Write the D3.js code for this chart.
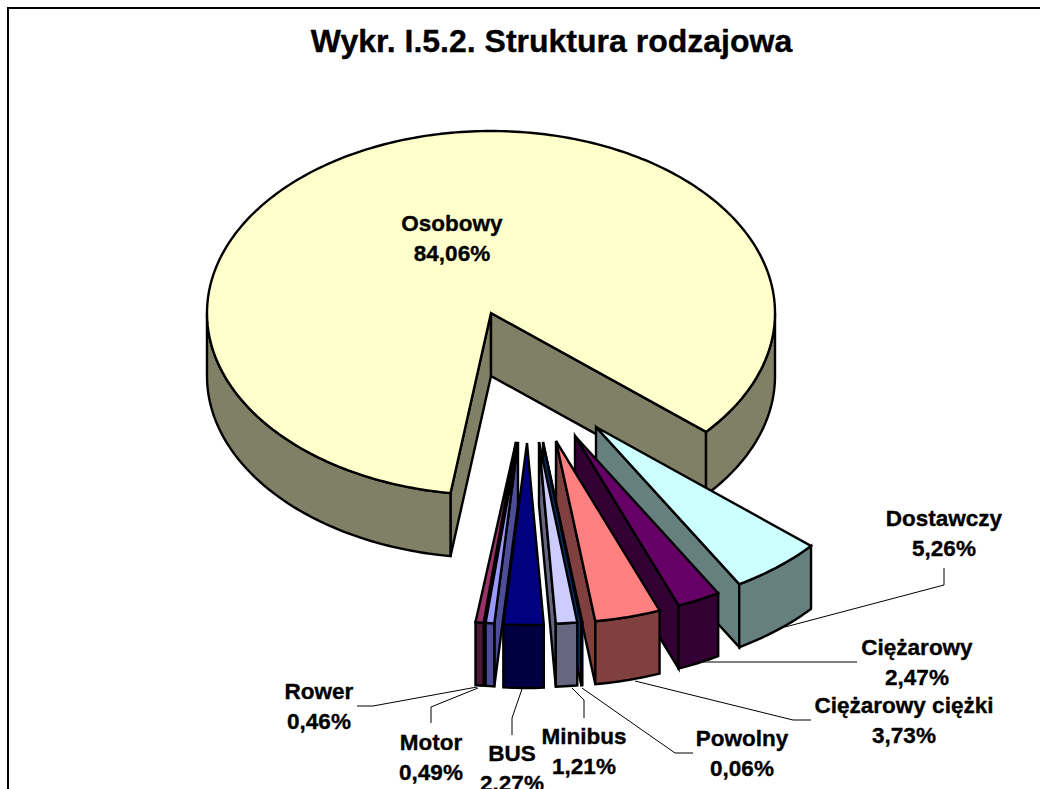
<!DOCTYPE html>
<html lang="pl">
<head>
<meta charset="utf-8">
<style>
html,body{margin:0;padding:0;background:#fff;overflow:hidden}
svg{display:block}
text{font-family:"Liberation Sans",Arial,sans-serif;font-weight:bold;fill:#000;stroke:#000;stroke-width:0.35px}
</style>
</head>
<body>
<svg id="c" width="1040" height="789"></svg>
<script src="https://cdn.jsdelivr.net/npm/d3@7/dist/d3.min.js"></script>
<script>
const chartTitle = "Wykr. I.5.2. Struktura rodzajowa";
const categories = ["Osobowy","Dostawczy","Ciężarowy","Ciężarowy ciężki","Powolny","Minibus","BUS","Motor","Rower"];
const shares = [84.06,5.26,2.47,3.73,0.06,1.21,2.27,0.49,0.46];
const shareLabels = ["84,06%","5,26%","2,47%","3,73%","0,06%","1,21%","2,27%","0,49%","0,46%"];
const topColors = ["#FFFFCC","#CCFFFF","#660066","#FF8080","#0066CC","#CCCCFF","#000080","#9999FF","#993366"];
const sideColors = ["#808066","#668080","#330033","#804040","#003366","#666680","#000040","#4D4D99","#4D1A33"];

// layout
const cx = 491, cy = 313, rx = 284, ry = 182, depth = 63;
const explode = [[0,0],[105,114],[84,123],[65,128],[52,129],[48,129],[36,130],[27,129],[25,129]];
const drawOrder = [0,8,7,1,2,3,4,5,6];
const labelPos = [[452,231],[944,526],[917,655],[904,713],[742,746],[584,744],[512,761],[431,750],[319,699]];
const leaders = [null,
  [[785,627],[944,585],[944,568]],
  [[703,662],[857,662]],
  [[635,681],[793,720],[811,720]],
  [[582,688],[675,753],[693,753]],
  [[572,688],[584,700],[584,718]],
  [[522,689],[512,718],[512,735]],
  [[478,688],[431,707],[431,723]],
  [[477,687],[373,706],[357,706]]
];

const svg = d3.select("#c");
const deg = Math.PI/180;
const startDeg = 188.2;
const pie = d3.pie().sort(null).startAngle(startDeg*deg).endAngle((startDeg+360)*deg);
const arcs = pie(shares);
const line = d3.line();

svg.append("rect").attr("x",8).attr("y",8).attr("width",1060).attr("height",820)
  .attr("fill","#fff").attr("stroke","#000").attr("stroke-width",2);

svg.append("text").attr("x",551.5).attr("y",52).attr("text-anchor","middle")
  .attr("font-size",32).text(chartTitle);

const pt = (a,ox,oy,d=0)=>[cx+ox+rx*Math.sin(a), cy+oy-ry*Math.cos(a)+d];
function arcPts(a0,a1,ox,oy,d=0){
  const n = Math.max(2,Math.ceil((a1-a0)/(1*deg)));
  return d3.range(n+1).map(i=>pt(a0+(a1-a0)*i/n,ox,oy,d));
}
const styl = s=>s.attr("stroke","#000").attr("stroke-width",2.4).attr("stroke-linejoin","miter").attr("stroke-miterlimit",5);

// a cut face is visible when the slice's interior lies above its edge on screen
function faceVisible(a,mid){
  const dx=rx*Math.sin(a), dy=-ry*Math.cos(a), mx=rx*Math.sin(mid), my=-ry*Math.cos(mid);
  return (dx*my-dy*mx)*(dx>=0?1:-1) < 0;
}

function drawSlice(i){
  const s = arcs[i], [ox,oy]=explode[i], a0=s.startAngle, a1=s.endAngle, mid=(a0+a1)/2;
  const g = svg.append("g").attr("data-name",categories[i]);
  const apex=[cx+ox,cy+oy];
  for(const a of [a0,a1]){
    if(a1-a0<Math.PI && !faceVisible(a,mid)) continue;
    const p=pt(a,ox,oy);
    styl(g.append("path")).attr("fill",sideColors[i])
      .attr("d",line([apex,p,[p[0],p[1]+depth],[apex[0],apex[1]+depth]])+"Z");
  }
  // outer wall on the front half of the ellipse
  const turns=[0,1,2].map(k=>[(90+360*k)*deg,(270+360*k)*deg]);
  for(const [w0,w1] of turns){
    const b0=Math.max(a0,w0), b1=Math.min(a1,w1);
    if(b1<=b0) continue;
    const top=arcPts(b0,b1,ox,oy), bot=arcPts(b0,b1,ox,oy,depth).reverse();
    styl(g.append("path")).attr("fill",sideColors[i]).attr("d",line(top.concat(bot))+"Z");
  }
  styl(g.append("path")).attr("fill",topColors[i])
    .attr("d",line([apex].concat(arcPts(a0,a1,ox,oy)))+"Z");
}
drawOrder.forEach(drawSlice);

leaders.forEach(l=>{ if(l) svg.append("path").attr("d",line(l)).attr("fill","none").attr("stroke","#000").attr("stroke-width",1); });

categories.forEach((c,i)=>{
  const t=svg.append("text").attr("text-anchor","middle").attr("font-size",22.5);
  const [x,y]=labelPos[i];
  t.append("tspan").attr("x",x).attr("y",y).text(c);
  t.append("tspan").attr("x",x).attr("y",y+29.5).text(shareLabels[i]);
});
</script>
</body>
</html>
